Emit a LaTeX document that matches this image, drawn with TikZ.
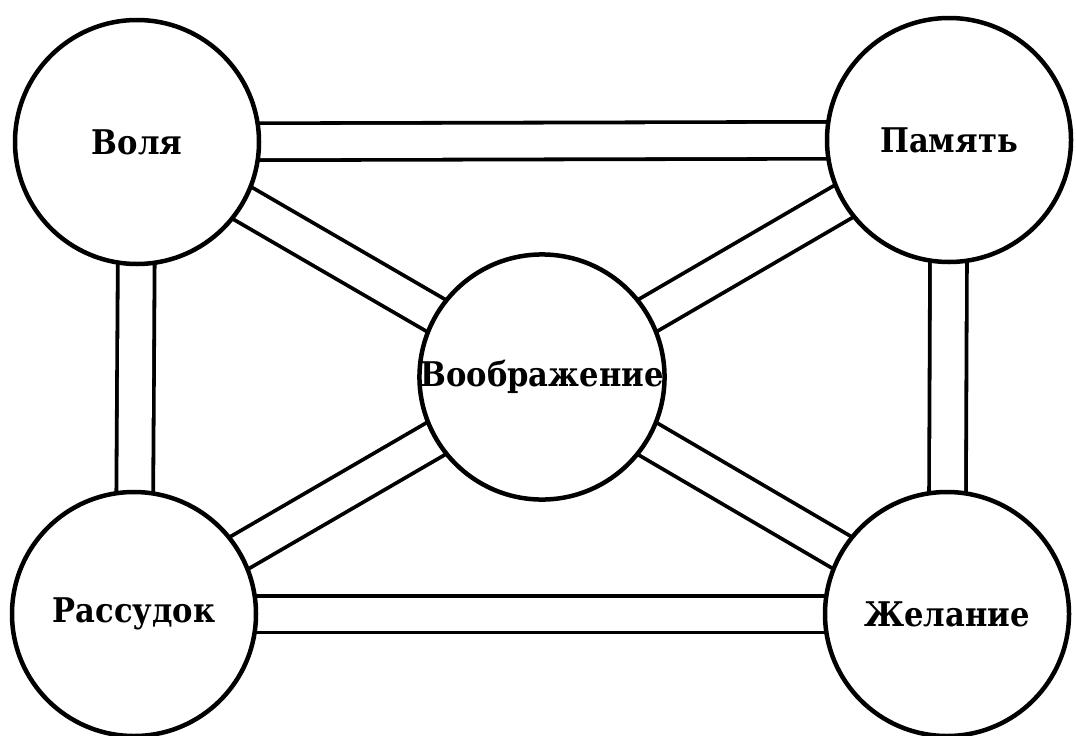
\documentclass[tikz,border=0pt]{standalone}
\usepackage{fontspec}
\setmainfont{DejaVu Serif Condensed}
\pgfdeclarelayer{bg}
\pgfsetlayers{bg,main}
\begin{document}
\begin{tikzpicture}[x=1pt,y=-1pt,
  idea/.style={circle,draw,line width=4.5pt,fill=white,minimum size=244pt,inner sep=0pt,font=\fontsize{34}{40}\selectfont\bfseries},
  link/.style={line width=3.8pt,double=white,double distance=33pt}]
\useasboundingbox (0,0) rectangle (1076,736);
\node[idea] (volya) at (137,142) {Воля};
\node[idea] (pamyat) at (949,140) {Память};
\node[idea] (rassudok) at (134,614) {Рассудок};
\node[idea] (zhelanie) at (947,614) {Желание};
\node[idea] (voobr) at (542,377) {Воображение};
\begin{pgfonlayer}{bg}
\draw[link] (volya.center) -- (pamyat.center);
\draw[link] (rassudok.center) -- (zhelanie.center);
\draw[link] (volya.center) -- (rassudok.center);
\draw[link] (pamyat.center) -- (zhelanie.center);
\draw[link] (volya.center) -- (voobr.center);
\draw[link] (pamyat.center) -- (voobr.center);
\draw[link] (rassudok.center) -- (voobr.center);
\draw[link] (zhelanie.center) -- (voobr.center);
\end{pgfonlayer}
\end{tikzpicture}
\end{document}
